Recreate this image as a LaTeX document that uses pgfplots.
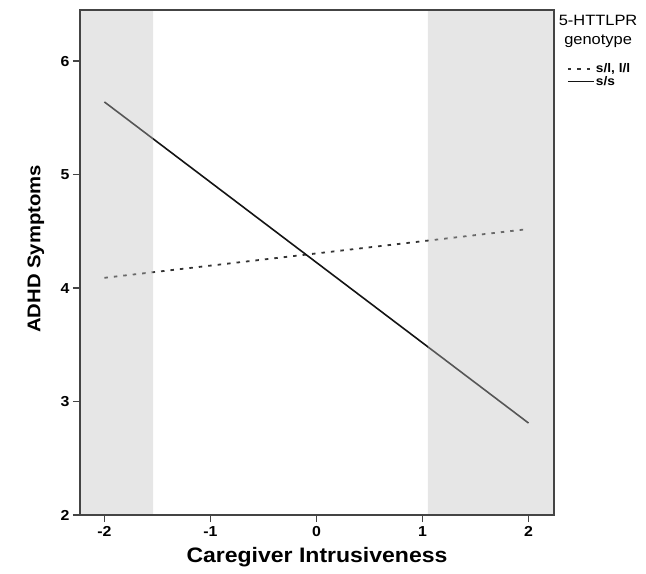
\documentclass[border=0pt]{standalone}
\usepackage{fontspec}
\setmainfont[FakeStretch=1.1]{Liberation Sans}
\usepackage{pgfplots}
\pgfplotsset{compat=1.18}

\definecolor{axisgray}{HTML}{444444}

\begin{document}
\begin{tikzpicture}
\useasboundingbox (0,0) rectangle (646bp,574bp);
\begin{axis}[
    at={(80bp,59bp)}, anchor=south west,
    scale only axis, width=474bp, height=505bp,
    xmin=-2.23, xmax=2.24,
    ymin=2, ymax=6.45,
    clip=false,
    xtick={-2,-1,0,1,2},
    ytick={2,3,4,5,6},
    xtick pos=bottom, ytick pos=left,
    tick align=outside, major tick length=7bp,
    axis line style={draw=axisgray, line width=1.3bp},
    tick style={draw=axisgray, line width=1.3bp},
    /pgf/number format/assume math mode=true,
    ticklabel style={font=\bfseries\fontsize{14.5}{16}\selectfont},
    xticklabel style={yshift=-1bp},
    xlabel={Caregiver Intrusiveness},
    ylabel={ADHD Symptoms},
    xlabel style={font=\bfseries\fontsize{21}{24}\selectfont,
        at={(axis description cs:0.5,-0.083)}, anchor=center},
    ylabel style={font=\bfseries\fontsize{18.5}{22}\selectfont,
        at={(axis description cs:-0.093,0.527)}, anchor=center, rotate=0},
    axis on top,
    legend style={at={(axis description cs:1.027,0.897)}, anchor=north west,
        draw=none, fill=none, inner sep=0pt, row sep=0pt,
        font=\bfseries\fontsize{12.5}{13}\selectfont,
        nodes={inner sep=1.2bp}},
    legend cell align=left,
    legend image code/.code={\draw[#1] (0bp,0bp) -- (26bp,0bp);},
]

% lines (drawn first, bands laid over them)
\addplot[color=black!80, line width=1.8bp, dash pattern=on 3.5bp off 6bp]
    coordinates {(-2,4.09) (2,4.52)};
\addlegendentry{s/l, l/l}
\addplot[color=black!92, line width=1.6bp]
    coordinates {(-2,5.64) (2,2.81)};
\addlegendentry{s/s}

% shaded regions outside the region of significance
\addplot[draw=none, fill=black!25, fill opacity=0.39, forget plot]
    coordinates {(-2.23,2) (-1.54,2) (-1.54,6.45) (-2.23,6.45)} \closedcycle;
\addplot[draw=none, fill=black!25, fill opacity=0.39, forget plot]
    coordinates {(1.05,2) (2.24,2) (2.24,6.45) (1.05,6.45)} \closedcycle;

\node[align=center, inner sep=0pt, font=\fontsize{15}{19}\selectfont]
    at (axis description cs:1.093,0.958) {5-HTTLPR\\genotype};
\end{axis}
\end{tikzpicture}
\end{document}
